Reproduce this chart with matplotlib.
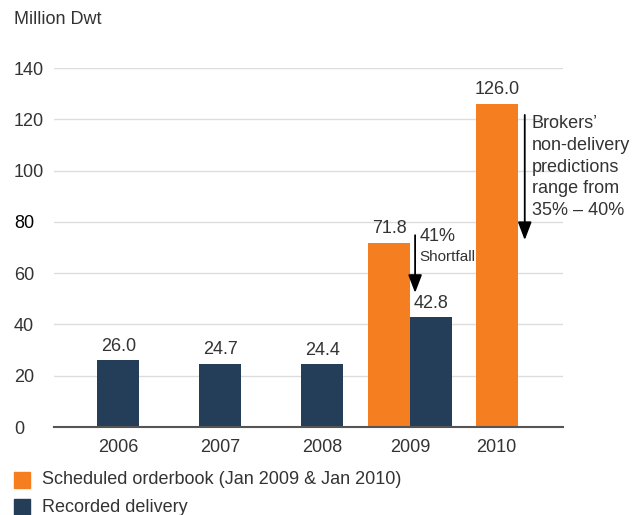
import numpy as np
import matplotlib
matplotlib.use("Agg")
import matplotlib.pyplot as plt
from matplotlib.patches import Rectangle

# data
years = ["2006", "2007", "2008", "2009", "2010"]
scheduled = [np.nan, np.nan, np.nan, 71.8, 126.0]
recorded = [26.0, 24.7, 24.4, 42.8, np.nan]
series_labels = ["Scheduled orderbook (Jan 2009 & Jan 2010)", "Recorded delivery"]
shortfall_note = ["41%", "Shortfall"]
broker_note = "Brokers\u2019\nnon-delivery\npredictions\nrange from\n35% \u2013 40%"

ORANGE = "#F47E20"
NAVY = "#243D59"
TEXT = "#333333"

plt.rcParams["font.family"] = ["Liberation Sans", "DejaVu Sans"]

fig = plt.figure(figsize=(6.43, 5.15), dpi=100)
ax = fig.add_axes([54 / 643, 1 - 427 / 515, (563 - 54) / 643, (427 - 68) / 515])

# slot centres; 2009 holds two bars side by side
x = np.array([0, 1, 2, 2.86, 3.71])
w = 0.41
both = ~np.isnan(np.array(scheduled)) & ~np.isnan(np.array(recorded))
x_sched = np.where(both, x - w / 2, x)
x_rec = np.where(both, x + w / 2, x)

b1 = ax.bar(x_sched, scheduled, w, color=ORANGE, zorder=3)
b2 = ax.bar(x_rec, recorded, w, color=NAVY, zorder=3)
for b in (b1, b2):
    labels = ["" if np.isnan(v) else f"{v:.1f}" for v in b.datavalues]
    ax.bar_label(b, labels=labels, padding=4, fontsize=13, color=TEXT)

ax.set_xlim(-0.63, 4.36)
ax.set_ylim(0, 140)
ax.set_yticks(np.arange(0, 141, 20))
ax.set_xticks(x)
ax.set_xticklabels(years)
ax.grid(axis="y", color="#dddddd", lw=1, zorder=0)
for s in ("top", "right", "left"):
    ax.spines[s].set_visible(False)
ax.spines["bottom"].set_color("#555555")
ax.spines["bottom"].set_linewidth(1.5)
ax.spines["bottom"].set_zorder(4)
ax.tick_params(axis="both", length=0, labelsize=13, labelcolor=TEXT)
ax.tick_params(axis="x", pad=9)
ax.tick_params(axis="y", pad=28.8)
for lbl in ax.get_yticklabels():
    lbl.set_horizontalalignment("left")
    if lbl.get_text() == "80":
        lbl.set_color("black")

arrow = dict(arrowstyle="-|>,head_length=1.1,head_width=0.42", color="black",
             lw=1.3, mutation_scale=10, shrinkA=0, shrinkB=0)

# 41% shortfall arrow in 2009
i9 = 3
ax_x = x[i9] + 0.05
ax.annotate("", xy=(ax_x, recorded[i9] + 9.5), xytext=(ax_x, scheduled[i9] + 3), arrowprops=arrow, zorder=5)
ax.text(ax_x + 0.045, 74.1, shortfall_note[0], fontsize=13, color=TEXT, va="center", ha="left")
ax.text(ax_x + 0.045, 66.3, shortfall_note[1], fontsize=11, color=TEXT, va="center", ha="left")

# brokers' prediction arrow in 2010
i10 = 4
bx = x[i10] + 0.275
ax.annotate("", xy=(bx, 72.9), xytext=(bx, 121.7), arrowprops=arrow, zorder=5)
ax.text(bx + 0.07, 121.5, broker_note, fontsize=13, color=TEXT, va="top", ha="left", linespacing=1.36)

fig.text(14 / 643, 1 - 20 / 515, "Million Dwt", fontsize=13, color=TEXT, va="center", ha="left")

# legend drawn by hand to match the layout
for k, (lab, col) in enumerate(zip(series_labels, [ORANGE, NAVY])):
    top = 472 + k * 27
    fig.patches.append(Rectangle((14 / 643, 1 - (top + 16) / 515), 16 / 643, 16 / 515,
                                 transform=fig.transFigure, color=col))
    fig.text(42 / 643, 1 - (top + 8) / 515, lab, fontsize=13, color=TEXT, va="center", ha="left")

fig.savefig("out.png", dpi=100)
